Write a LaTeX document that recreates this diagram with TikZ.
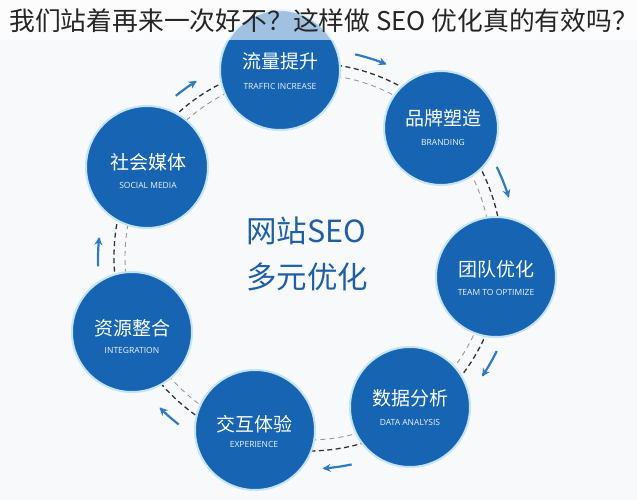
\documentclass[tikz,border=0pt]{standalone}
\usepackage{fontspec}
\usetikzlibrary{arrows.meta}
\newfontfamily\cjk{Noto Sans CJK SC}
\newfontfamily\subf{Open Sans}
\definecolor{cblue}{RGB}{22,100,178}
\definecolor{ablue}{RGB}{48,122,190}
\definecolor{tblue}{RGB}{30,95,168}
\definecolor{rim}{RGB}{195,228,246}
\definecolor{bgc}{RGB}{248,249,251}
\definecolor{darkdash}{RGB}{50,50,55}
\definecolor{lightdash}{RGB}{150,150,155}
\begin{document}
\begin{tikzpicture}[x=1pt,y=-1pt,
  bub/.style={circle,fill=cblue,draw=rim,line width=2pt,minimum size=#1,inner sep=0pt},
  bub/.default=120pt,
  zh/.style={text=white,font=\cjk\fontsize{19}{19}\selectfont,inner sep=0pt},
  en/.style={text=white!92!cblue,font=\subf\fontsize{8.5}{8.5}\selectfont,inner sep=0pt},
  ctr/.style={text=tblue,font=\cjk\fontsize{30.5}{30.5}\selectfont,anchor=west,inner sep=0pt},
  cyc/.style={draw=ablue,line width=2.2pt,-{Stealth[length=8pt,width=8pt]}},
  outerring/.style={draw=darkdash,line width=1.3pt,dash pattern=on 5pt off 3.5pt},
  innerring/.style={draw=lightdash,line width=0.9pt,dash pattern=on 5pt off 4pt}]
\useasboundingbox (0,0) rectangle (637,500);
\fill[bgc] (0,0) rectangle (637,500);
% dashed rings
\coordinate (O) at (308,257);
\draw[outerring] (O) circle[radius=194];
\draw[innerring] (O) circle[radius=183];
% cycle arrows
\foreach \a/\b in {-77/-68,-26/-17,26/34,78/86,128/135,178/186,231/238}{
  \draw[cyc] plot[domain=\a:\b,samples=20,smooth] ({308+210*cos(\x)},{259+210*sin(\x)});
}
% circles
\node[bub] (n1) at (280,70) {};
\node[bub=114pt] (n2) at (441,128) {};
\node[bub] (n3) at (496,277) {};
\node[bub] (n4) at (410,407) {};
\node[bub] (n5) at (255,430) {};
\node[bub] (n6) at (132,332) {};
\node[bub=122pt] (n7) at (147,167) {};
% circle texts
\node[zh] (z1) at (280,61) {流量提升};
\node[en] (e1) at (280,86) {TRAFFIC INCREASE};
\node[zh] (z2) at (443,118) {品牌塑造};
\node[en] (e2) at (443,142) {BRANDING};
\node[zh] (z3) at (496,269) {团队优化};
\node[en] (e3) at (496,292) {TEAM TO OPTIMIZE};
\node[zh] (z4) at (410,398) {数据分析};
\node[en] (e4) at (410,422) {DATA ANALYSIS};
\node[zh] (z5) at (254,424) {交互体验};
\node[en] (e5) at (254,444) {EXPERIENCE};
\node[zh] (z6) at (132,328) {资源整合};
\node[en] (e6) at (132,350) {INTEGRATION};
\node[zh] (z7) at (148,162) {社会媒体};
\node[en] (e7) at (148,185) {SOCIAL MEDIA};
% center text
\node[ctr] (c1) at (246,231) {网站SEO};
\node[ctr] (c2) at (246,277) {多元优化};
% title band
\fill[white,opacity=0.6] (0,0) rectangle (637,40);
\node[anchor=west,inner sep=0pt,text=black!85,font=\cjk\fontsize{25.8}{25.8}\selectfont] (title) at (9,21) {我们站着再来一次好不？这样做 SEO 优化真的有效吗？};
\end{tikzpicture}
\end{document}
